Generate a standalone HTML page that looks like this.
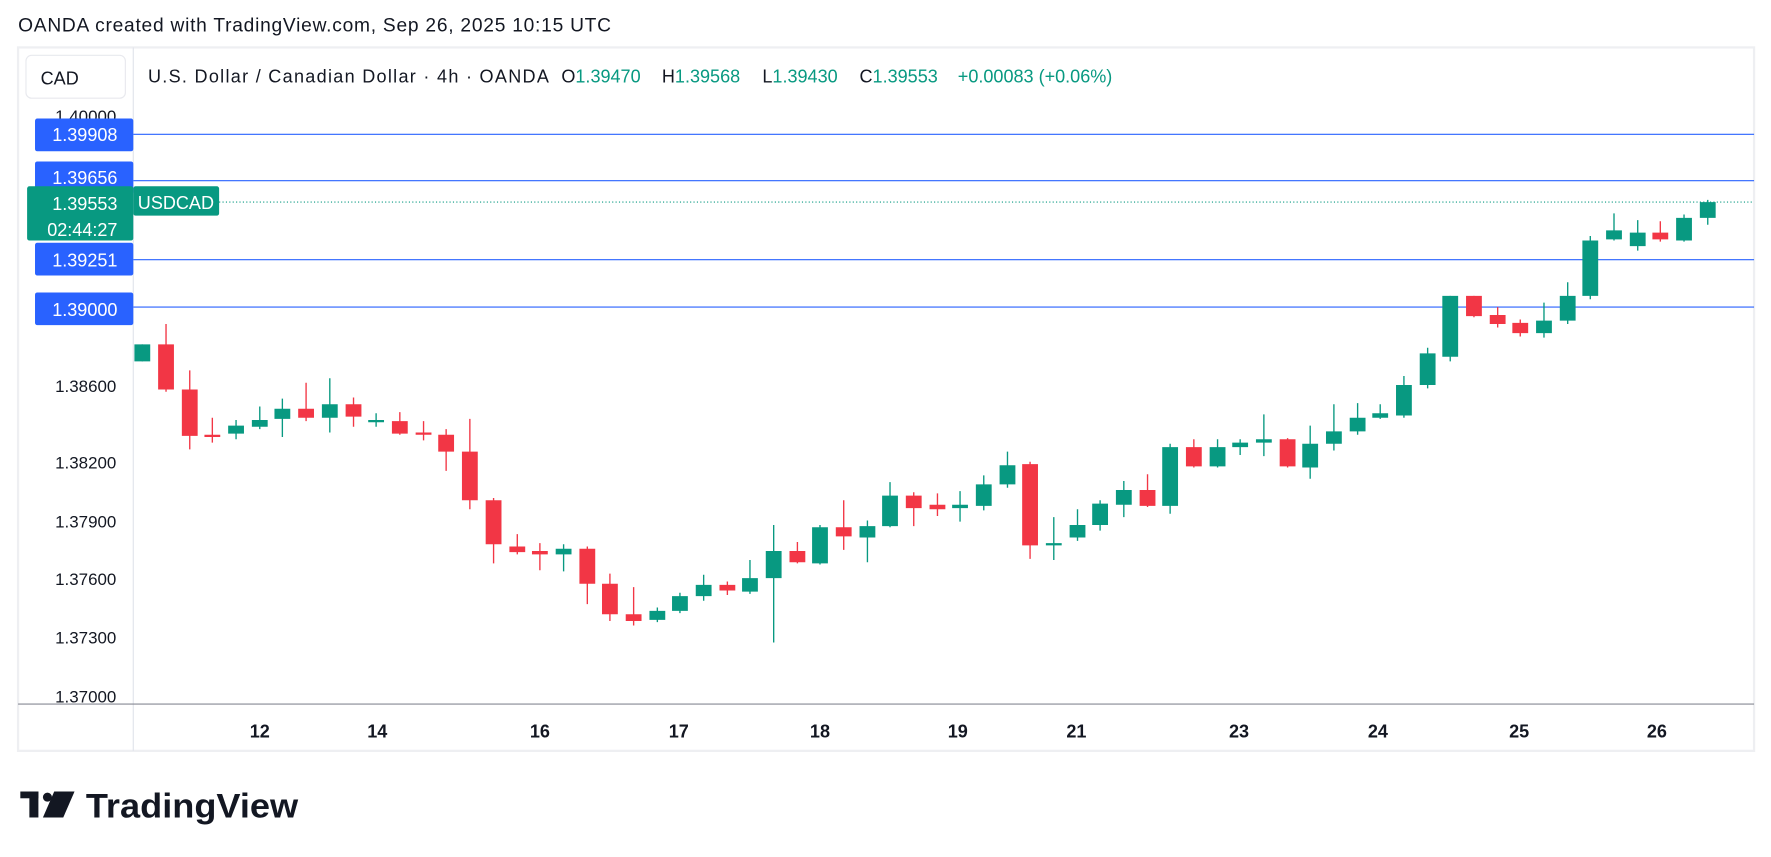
<!DOCTYPE html>
<html><head><meta charset="utf-8"><style>
html,body{margin:0;padding:0;background:#fff;}
svg{display:block;font-family:"Liberation Sans",sans-serif;}
</style></head><body>
<svg width="1771" height="857" viewBox="0 0 1568 759" preserveAspectRatio="none" xmlns="http://www.w3.org/2000/svg">
<rect width="1568" height="759" fill="#fff"/>
<text x="16" y="28" font-size="17" fill="#131722" textLength="525" lengthAdjust="spacing">OANDA created with TradingView.com, Sep 26, 2025 10:15 UTC</text>
<rect x="16" y="42" width="1537" height="623" fill="#fff" stroke="#eeeff2" stroke-width="2"/>
<line x1="118" y1="42" x2="118" y2="665" stroke="#e0e3eb" stroke-width="1"/>
<line x1="16" y1="623.5" x2="1553" y2="623.5" stroke="#868993" stroke-width="1"/>
<rect x="23" y="49" width="88" height="38" rx="5" fill="#fff" stroke="#e8e9ee"/>
<text x="36" y="75" font-size="16" fill="#131722">CAD</text>
<g font-size="16" fill="#131722">
<text x="131" y="73" textLength="355" lengthAdjust="spacing">U.S. Dollar / Canadian Dollar · 4h · OANDA</text>
<text x="497" y="73">O<tspan fill="#089981">1.39470</tspan></text>
<text x="586" y="73">H<tspan fill="#089981">1.39568</tspan></text>
<text x="675" y="73">L<tspan fill="#089981">1.39430</tspan></text>
<text x="761" y="73">C<tspan fill="#089981">1.39553</tspan></text>
<text x="848" y="73" fill="#089981">+0.00083 (+0.06%)</text>
</g>
<g font-size="15" fill="#131722" text-anchor="end">
<text x="103" y="108">1.40000</text>
<text x="103" y="347">1.38600</text>
<text x="103" y="415">1.38200</text>
<text x="103" y="467">1.37900</text>
<text x="103" y="518">1.37600</text>
<text x="103" y="570">1.37300</text>
<text x="103" y="622">1.37000</text>
</g>
<g stroke="#2962ff" stroke-width="1">
<line x1="118" y1="119" x2="1553" y2="119"/>
<line x1="118" y1="160" x2="1553" y2="160"/>
<line x1="118" y1="230" x2="1553" y2="230"/>
<line x1="118" y1="272" x2="1553" y2="272"/>
</g>
<line x1="194" y1="179" x2="1553" y2="179" stroke="#089981" stroke-dasharray="1,2"/>
<g fill="#2962ff">
<rect x="31" y="105" width="87" height="29" rx="2"/>
<rect x="31" y="143" width="87" height="29" rx="2"/>
<rect x="31" y="215" width="87" height="29" rx="2"/>
<rect x="31" y="259" width="87" height="29" rx="2"/>
</g>
<rect x="24" y="165" width="94" height="48" rx="2" fill="#089981"/>
<rect x="118" y="165" width="76" height="26" rx="2" fill="#089981"/>
<g font-size="16" fill="#fff" text-anchor="end">
<text x="104" y="125">1.39908</text>
<text x="104" y="163">1.39656</text>
<text x="104" y="186">1.39553</text>
<text x="104" y="209">02:44:27</text>
<text x="104" y="236">1.39251</text>
<text x="104" y="280">1.39000</text>
</g>
<text x="122" y="185" font-size="16" fill="#fff">USDCAD</text>

<path fill="none" stroke="#089981" stroke-width="1.2" d="M126 305V320M209 372V389M230 360V380M250 353V387M292 335V383M333 366V378M499 482V506M582 538V551M602 525V543M623 509V532M664 496V526M685 465V569M726 465V500M768 461V498M788 427V467M850 435V462M871 421V452M892 400V432M933 458V496M954 451V479M974 443V470M995 426V458M1036 393V455M1078 389V414M1098 389V403M1119 367V404M1160 377V424M1181 358V399M1202 357V385M1222 358V371M1243 333V370M1264 308V344M1284 262V320M1367 268V299M1388 250V287M1408 209V265M1429 189V213M1450 195V222M1491 190V214M1512 177V199"/>
<path fill="#089981" d="M119 305h14V320h-14zM202 377h14V384h-14zM223 372h14V378h-14zM243 362h14V371h-14zM285 358h14V370h-14zM326 372h14V374h-14zM492 486h14V491h-14zM575 541h14V549h-14zM595 528h14V541h-14zM616 518h14V528h-14zM657 512h14V524h-14zM678 488h14V512h-14zM719 467h14V499h-14zM761 466h14V476h-14zM781 439h14V466h-14zM843 447h14V450h-14zM864 429h14V448h-14zM885 412h14V429h-14zM926 481h14V483h-14zM947 465h14V476h-14zM967 446h14V465h-14zM988 434h14V447h-14zM1029 396h14V448h-14zM1071 396h14V413h-14zM1091 392h14V396h-14zM1112 389h14V392h-14zM1153 393h14V414h-14zM1174 382h14V393h-14zM1195 370h14V382h-14zM1215 366h14V370h-14zM1236 341h14V368h-14zM1257 313h14V341h-14zM1277 262h14V316h-14zM1360 284h14V295h-14zM1381 262h14V284h-14zM1401 213h14V262h-14zM1422 204h14V212h-14zM1443 206h14V218h-14zM1484 193h14V213h-14zM1505 179h14V193h-14z"/>
<path fill="none" stroke="#f23645" stroke-width="1.2" d="M147 287V347M168 328V398M188 370V392M271 339V373M313 352V378M354 365V385M375 373V390M395 380V417M416 371V451M437 441V499M458 473V491M478 481V505M520 484V535M540 508V550M561 520V554M644 515V527M706 480V499M747 443V487M809 436V466M830 437V457M912 409V495M1016 420V449M1057 389V414M1140 388V414M1305 262V281M1326 272V290M1346 283V298M1470 196V214"/>
<path fill="#f23645" d="M140 305h14V345h-14zM161 345h14V386h-14zM181 385h14V387h-14zM264 362h14V370h-14zM306 358h14V369h-14zM347 373h14V384h-14zM368 383h14V385h-14zM388 385h14V400h-14zM409 400h14V443h-14zM430 443h14V482h-14zM451 484h14V489h-14zM471 488h14V491h-14zM513 486h14V517h-14zM533 517h14V544h-14zM554 544h14V550h-14zM637 518h14V523h-14zM699 488h14V498h-14zM740 467h14V475h-14zM802 439h14V450h-14zM823 447h14V451h-14zM905 411h14V483h-14zM1009 434h14V448h-14zM1050 396h14V413h-14zM1133 389h14V413h-14zM1298 262h14V280h-14zM1319 279h14V287h-14zM1339 286h14V295h-14zM1463 206h14V212h-14z"/>

<g font-size="16" font-weight="bold" fill="#131722" text-anchor="middle">
<text x="230" y="653">12</text><text x="334" y="653">14</text><text x="478" y="653">16</text>
<text x="601" y="653">17</text><text x="726" y="653">18</text><text x="848" y="653">19</text>
<text x="953" y="653">21</text><text x="1097" y="653">23</text><text x="1220" y="653">24</text>
<text x="1345" y="653">25</text><text x="1467" y="653">26</text>
</g>
<g fill="#131722">
<rect x="18" y="701" width="16" height="6"/><rect x="26" y="701" width="8" height="23"/>
<circle cx="42" cy="706" r="4"/><polygon points="48,701 66,701 56,724 38,724"/>
</g>
<text x="76" y="724" font-size="30" font-weight="bold" fill="#131722" textLength="188" lengthAdjust="spacingAndGlyphs">TradingView</text>
</svg>
</body></html>
